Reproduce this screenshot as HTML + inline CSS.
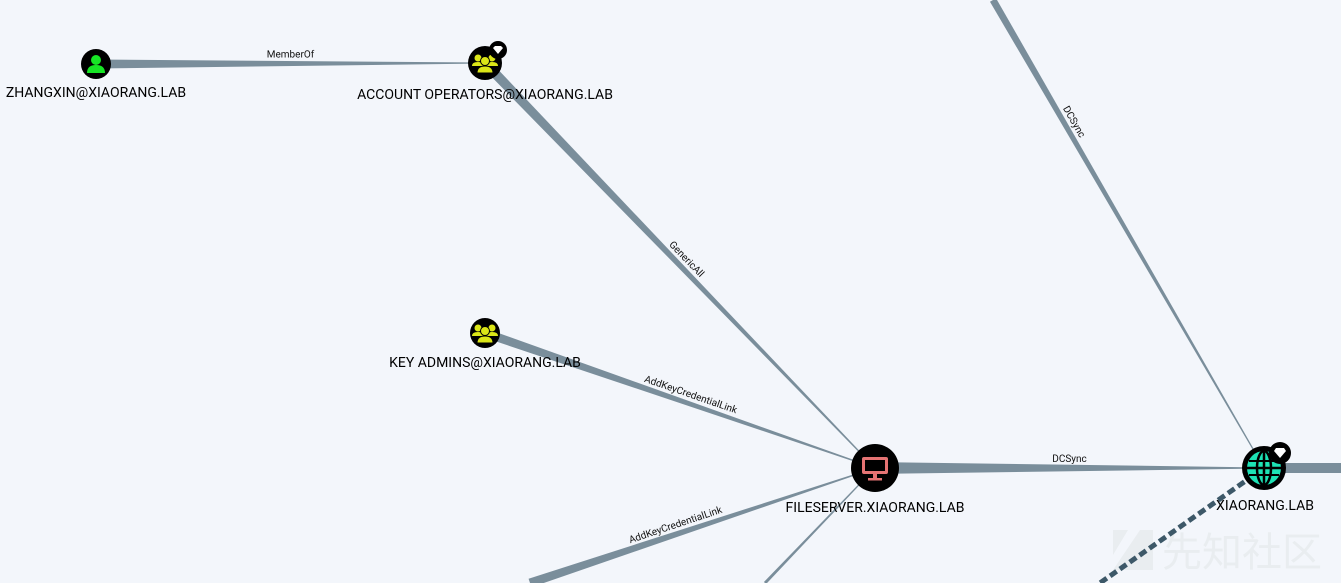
<!DOCTYPE html>
<html><head><meta charset="utf-8">
<style>
html,body{margin:0;padding:0;background:#f3f6fb;}
svg{display:block;}
text{font-family:"Roboto","Liberation Sans",sans-serif;}
</style></head>
<body>
<svg id="g" width="1341" height="583" viewBox="0 0 1341 583">
<rect width="1341" height="583" fill="#f3f6fb"/>
<g>
<polygon points="1113,570 1113,530 1128,530 1113,555 1113,570 1140,530 1153,530 1153,570" fill="#e9edf0"/>
<text x="1242" y="566" font-size="40" fill="#e9edf0" font-family="'Noto Sans CJK SC',sans-serif" text-anchor="middle">先知社区</text>
</g>
<g id="edges"></g>
<g id="nodes"></g>
</svg>
<script>
const nodeIds=["zhangxin","acctops","keyadmins","fileserver","xiaorang","offA","offB","offC","offD","offE"];
const nodeLabels=["ZHANGXIN@XIAORANG.LAB","ACCOUNT OPERATORS@XIAORANG.LAB","KEY ADMINS@XIAORANG.LAB","FILESERVER.XIAORANG.LAB","XIAORANG.LAB","","","","",""];
const nodeX=[96,485,485,875,1264,530,765,993,1341,1100];
const nodeY=[64,63,333,468,468,583,583,0,468,583];
const nodeKind=["user","group","group","computer","domain","none","none","none","none","none"];
const edgeFrom=["zhangxin","acctops","keyadmins","offA","offB","offC","fileserver","offD","xiaorang"];
const edgeTo=["acctops","fileserver","fileserver","fileserver","fileserver","xiaorang","xiaorang","xiaorang","offE"];
const edgeLabels=["MemberOf","GenericAll","AddKeyCredentialLink","AddKeyCredentialLink","","DCSync","DCSync","",""];
const edgeWidth=[9,10,9,9,3,7,12,10,5];
const edgeEndWidth=[1,1,1,1,1,1,1,10,5];
const edgeDashed=[false,false,false,false,false,false,false,false,true];

const NS="http://www.w3.org/2000/svg";
const E=document.getElementById("edges"),N=document.getElementById("nodes");
function mk(t,a,p){const e=document.createElementNS(NS,t);for(const k in a)e.setAttribute(k,a[k]);(p||N).appendChild(e);return e;}
function pos(id){const i=nodeIds.indexOf(id);return [nodeX[i],nodeY[i]];}

edgeFrom.forEach((f,i)=>{
  const [x1,y1]=pos(f),[x2,y2]=pos(edgeTo[i]);
  const dx=x2-x1,dy=y2-y1,L=Math.hypot(dx,dy),nx=-dy/L,ny=dx/L;
  let el;
  if(edgeDashed[i]){
    el=mk("line",{x1,y1,x2,y2,stroke:"#3d5868","stroke-width":edgeWidth[i],"stroke-dasharray":"8 4"},E);
  }else{
    const w1=edgeWidth[i]/2,w2=edgeEndWidth[i]/2;
    const pts=[[x1+nx*w1,y1+ny*w1],[x2+nx*w2,y2+ny*w2],[x2-nx*w2,y2-ny*w2],[x1-nx*w1,y1-ny*w1]];
    el=mk("polygon",{points:pts.map(p=>p.join(",")).join(" "),fill:"#7a8e9b"},E);
  }
  
  
  if(edgeLabels[i]){
    let ang=Math.atan2(dy,dx)*180/Math.PI;
    if(ang>90)ang-=180; if(ang<-90)ang+=180;
    const t=(i===2?0.52:i===3?0.43:i===5?0.27:0.5);
    const mx=x1+dx*t,my=y1+dy*t;
    const tx=mk("text",{x:mx,y:my-6,"font-size":10,fill:"#111","text-anchor":"middle",transform:`rotate(${ang} ${mx} ${my})`},E);
    tx.textContent=edgeLabels[i];
    
    
  }
});

nodeIds.forEach((id,i)=>{
  const k=nodeKind[i];if(k==="none")return;
  const x=nodeX[i],y=nodeY[i];
  const g=mk("g",{});
  
  
  const add=(t,a)=>mk(t,a,g);
  if(k==="user"){
    add("circle",{cx:x,cy:y,r:15,fill:"#000"});
    add("circle",{cx:x,cy:y-4,r:5,fill:"#17e625"});
    add("path",{d:`M${x-9} ${y+9} Q${x-9} ${y+1} ${x} ${y+1} Q${x+9} ${y+1} ${x+9} ${y+9} Z`,fill:"#17e625"});
  }else if(k==="group"){
    const r=id==="acctops"?17:15;
    add("circle",{cx:x,cy:y,r,fill:"#000"});
    const c="#dbe617";
    add("circle",{cx:x-7,cy:y-5,r:3.5,fill:c});
    add("circle",{cx:x+7,cy:y-5,r:3.5,fill:c});
    add("path",{d:`M${x-13} ${y+3} Q${x-13} ${y-1} ${x-7} ${y-1} Q${x-1} ${y-1} ${x-1} ${y+3} Z`,fill:c});
    add("path",{d:`M${x+1} ${y+3} Q${x+1} ${y-1} ${x+7} ${y-1} Q${x+13} ${y-1} ${x+13} ${y+3} Z`,fill:c});
    add("circle",{cx:x,cy:y-2,r:4.5,fill:c,stroke:"#000","stroke-width":1});
    add("path",{d:`M${x-8} ${y+10} Q${x-8} ${y+3} ${x} ${y+3} Q${x+8} ${y+3} ${x+8} ${y+10} Z`,fill:c,stroke:"#000","stroke-width":1});
    if(id==="acctops"){add("circle",{cx:x+13,cy:y-13,r:9,fill:"#000"});add("path",{d:`M${x+8} ${y-15} L${x+10} ${y-17} L${x+16} ${y-17} L${x+18} ${y-15} L${x+13} ${y-9} Z`,fill:"#fff"});}
  }else if(k==="computer"){
    add("circle",{cx:x,cy:y,r:24,fill:"#000"});
    add("rect",{x:x-13,y:y-11,width:26,height:17,rx:2,fill:"#e57373"});
    add("rect",{x:x-10,y:y-8,width:20,height:11,fill:"#000"});
    add("rect",{x:x-2,y:y+6,width:4,height:4,fill:"#e57373"});
    add("rect",{x:x-7,y:y+10,width:14,height:2.5,fill:"#e57373"});
  }else if(k==="domain"){
    add("circle",{cx:x,cy:y,r:22,fill:"#000"});
    add("circle",{cx:x,cy:y,r:17,fill:"#1de2b5"});
    add("ellipse",{cx:x,cy:y,rx:7,ry:17,fill:"none",stroke:"#000","stroke-width":2.5});
    add("line",{x1:x,y1:y-17,x2:x,y2:y+17,stroke:"#000","stroke-width":2.5});
    add("line",{x1:x-17,y1:y,x2:x+17,y2:y,stroke:"#000","stroke-width":2.5});
    add("line",{x1:x-15,y1:y-7,x2:x+15,y2:y-7,stroke:"#000","stroke-width":2});
    add("line",{x1:x-15,y1:y+7,x2:x+15,y2:y+7,stroke:"#000","stroke-width":2});
    add("circle",{cx:x+16,cy:y-15,r:11,fill:"#000"});
    add("path",{d:`M${x+10} ${y-17} L${x+12} ${y-20} L${x+20} ${y-20} L${x+22} ${y-17} L${x+16} ${y-10} Z`,fill:"#fff"});
  }
  const off={user:33,group:id==="acctops"?36:34,computer:44,domain:42}[k];
  const t=mk("text",{x:k==="domain"?x+1:x,y:y+off,"font-size":14,fill:"#000","text-anchor":"middle"});
  t.textContent=nodeLabels[i];
  
  
});
</script>
</body></html>
